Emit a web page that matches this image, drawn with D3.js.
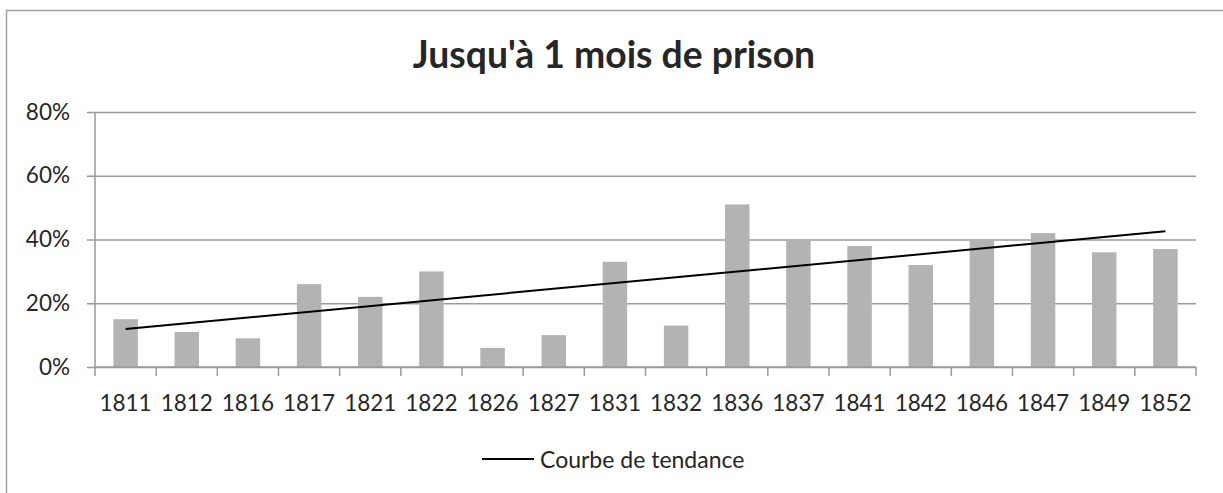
<!DOCTYPE html>
<html>
<head>
<meta charset="utf-8">
<script src="https://cdn.jsdelivr.net/npm/d3@7"></script>
<style>
  body { margin: 0; background: #fff; }
  text { font-family: Lato, "Open Sans", sans-serif; fill: #262626; }
</style>
</head>
<body>
<svg id="chart" width="1223" height="493"></svg>
<script>
var title = "Jusqu'à 1 mois de prison";
var years = ["1811", "1812", "1816", "1817", "1821", "1822", "1826", "1827", "1831",
    "1832", "1836", "1837", "1841", "1842", "1846", "1847", "1849", "1852"];
var shares = [15, 11, 9, 26, 22, 30, 6, 10, 33, 13, 51, 40, 38, 32, 40, 42, 36, 37];
var yTicks = [0, 20, 40, 60, 80];
var trendEnds = [11.9, 42.6];
var legendLabel = "Courbe de tendance";

var svg = d3.select('#chart');

var plotLeft = 95, plotRight = 1196, plotTop = 112, plotBottom = 367;

var xScale = d3.scaleBand()
    .domain(years)
    .range([plotLeft, plotRight])
    .paddingInner(0.6)
    .paddingOuter(0.3);

var yScale = d3.scaleLinear()
    .domain([0, 80])
    .range([plotBottom, plotTop]);

// chart border
svg.append('rect')
    .attr('x', 6.5)
    .attr('y', 10.5)
    .attr('width', 1240)
    .attr('height', 500)
    .attr('fill', 'none')
    .attr('stroke', '#a0a0a0')
    .attr('stroke-width', 1.5);

svg.append('text')
    .attr('x', 614)
    .attr('y', 68)
    .attr('text-anchor', 'middle')
    .style('font-size', '37.3px')
    .style('font-weight', 'bold')
    .text(title);

// gridlines + y labels
var yAxis = d3.axisLeft(yScale)
    .tickValues(yTicks)
    .tickSize(-(plotRight - plotLeft))
    .tickSizeOuter(0)
    .tickPadding(25)
    .tickFormat(function (d) { return d + '%'; });

var yG = svg.append('g')
    .attr('transform', 'translate(' + plotLeft + ',0)')
    .call(yAxis);
yG.select('.domain').remove();
yG.selectAll('.tick line')
    .attr('x1', -8)
    .attr('stroke', '#9a9a9a')
    .attr('stroke-width', 1.5);
yG.selectAll('.tick text')
    .style('font-size', '22.5px')
    .style('font-family', 'Lato, sans-serif')
    .attr('fill', '#262626');

// y axis line
svg.append('line')
    .attr('x1', plotLeft).attr('x2', plotLeft)
    .attr('y1', plotTop).attr('y2', plotBottom)
    .attr('stroke', '#9a9a9a')
    .attr('stroke-width', 1.5);

// bars
svg.selectAll('rect.bar').data(shares).enter().append('rect')
    .attr('class', 'bar')
    .attr('x', function (d, i) { return xScale(years[i]); })
    .attr('width', xScale.bandwidth())
    .attr('y', function (d) { return yScale(d); })
    .attr('height', function (d) { return yScale(0) - yScale(d); })
    .attr('fill', '#b3b3b5');

// x axis
var step = xScale.step();
var xAxis = svg.append('g')
    .attr('transform', 'translate(0,' + plotBottom + ')');
xAxis.append('line')
    .attr('x1', plotLeft).attr('x2', plotRight)
    .attr('stroke', '#9a9a9a')
    .attr('stroke-width', 1.5);
xAxis.selectAll('line.tk').data(d3.range(years.length + 1)).enter().append('line')
    .attr('class', 'tk')
    .attr('x1', function (i) { return plotLeft + i * step; })
    .attr('x2', function (i) { return plotLeft + i * step; })
    .attr('y1', 0).attr('y2', 9)
    .attr('stroke', '#9a9a9a')
    .attr('stroke-width', 1.5);
xAxis.selectAll('text').data(years).enter().append('text')
    .attr('x', function (d) { return xScale(d) + xScale.bandwidth() / 2; })
    .attr('y', 43.5)
    .attr('text-anchor', 'middle')
    .style('font-size', '22.5px')
    .text(function (d) { return d; });

// trend line
var centre = function (y) { return xScale(y) + xScale.bandwidth() / 2; };
svg.append('line')
    .attr('x1', centre(years[0]))
    .attr('y1', yScale(trendEnds[0]))
    .attr('x2', centre(years[years.length - 1]))
    .attr('y2', yScale(trendEnds[1]))
    .attr('stroke', '#000')
    .attr('stroke-width', 2);

// legend
var legend = svg.append('g').attr('transform', 'translate(482,459)');
legend.append('line')
    .attr('x1', 0).attr('x2', 52)
    .attr('stroke', '#000')
    .attr('stroke-width', 2);
legend.append('text')
    .attr('x', 58)
    .attr('y', 8.5)
    .style('font-size', '23px')
    .text(legendLabel);
</script>
</body>
</html>
